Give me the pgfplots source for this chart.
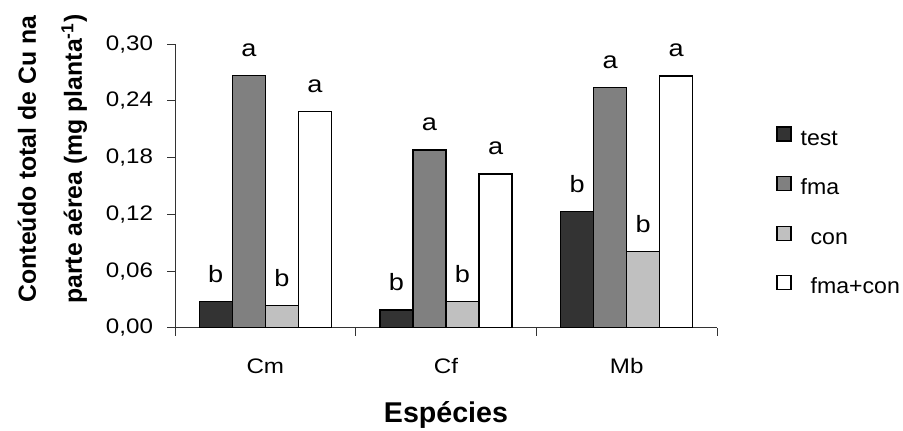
\documentclass[border=0pt]{standalone}
\usepackage{fontspec}
\setmainfont{Liberation Sans}
\newfontfamily\wfont{Liberation Sans}[FakeStretch=1.15]
\newfontfamily\lfont{Liberation Sans}[FakeStretch=1.05]
\usepackage{pgfplots}
\pgfplotsset{compat=1.18}
\definecolor{ctest}{HTML}{333333}
\definecolor{cfma}{HTML}{808080}
\definecolor{ccon}{HTML}{C0C0C0}
\begin{document}
\begin{tikzpicture}
\path[use as bounding box] (0,0) rectangle (451.5pt,215pt);
\begin{axis}[
  at={(87.5pt,51.15pt)}, anchor=south west,
  width=271pt, height=141.7pt, scale only axis,
  ybar=0pt, bar width=0.183,
  xmin=-0.5, xmax=2.5, ymin=0, ymax=0.30,
  axis x line*=bottom, axis y line*=left,
  axis line style={black!80, line width=0.5pt},
  tick style={black!80, line width=0.5pt},
  tick align=outside,
  major tick length=4pt,
  xtick={-0.5,0.5,1.5,2.5}, xticklabels={,,,},
  extra x ticks={0,1,2}, extra x tick labels={Cm,Cf,Mb},
  extra x tick style={major tick length=0pt, tick style={draw=none}},
  xticklabel style={yshift=-12pt},
  ytick={0,0.06,0.12,0.18,0.24,0.30},
  yticklabel style={/pgf/number format/fixed, /pgf/number format/fixed zerofill,
    /pgf/number format/precision=2, /pgf/number format/use comma,
    /pgf/number format/assume math mode=true, xshift=-3.5pt},
  tick label style={font=\wfont\fontsize{10.5}{12}\selectfont},
  every node near coord/.append style={anchor=base, yshift=9.7pt, text=black,
    font=\wfont\fontsize{11.8}{14}\selectfont},
  ylabel={Conteúdo total de Cu na\\parte aérea (mg planta\textsuperscript{-1})},
  ylabel style={at={(axis description cs:-0.2908,0.595)}, anchor=north, inner sep=0pt,
    align=center, font=\bfseries\fontsize{12.4}{23}\selectfont},
  xlabel={Espécies},
  xlabel style={at={(axis description cs:0.5,0)}, anchor=base, yshift=-47.15pt,
    font=\bfseries\fontsize{14.3}{16}\selectfont},
  every axis plot post/.append style={legend image code/.code={\draw[#1, line width=0.6pt] (0pt,-0.5pt) rectangle (7pt,6.5pt);}},
  legend style={at={(1.1089,0.7117)}, anchor=north west, draw=none, fill=none,
    inner sep=0pt, row sep=13.5pt, column sep=4.5pt,
    nodes={inner sep=0pt, text height=7pt, text depth=2pt},
    font=\lfont\fontsize{11}{13}\selectfont},
  legend cell align=left,
]
\addplot[fill=ctest, draw=black, line width=0.7pt, nodes near coords={b}]
  coordinates {(0,0.0275) (1,0.0187) (2,0.1228)};
\addplot[fill=cfma, draw=black, line width=0.7pt, nodes near coords={a}]
  coordinates {(0,0.2668) (1,0.1880) (2,0.2540)};
\addplot[fill=ccon, draw=black, line width=0.7pt, nodes near coords={b}]
  coordinates {(0,0.0233) (1,0.0275) (2,0.0805)};
\addplot[fill=white, draw=black, line width=0.7pt, nodes near coords={a}]
  coordinates {(0,0.2287) (1,0.1627) (2,0.2664)};
\legend{test,fma,\hspace{5pt}con,\hspace{5pt}fma+con}
\end{axis}
\end{tikzpicture}
\end{document}
